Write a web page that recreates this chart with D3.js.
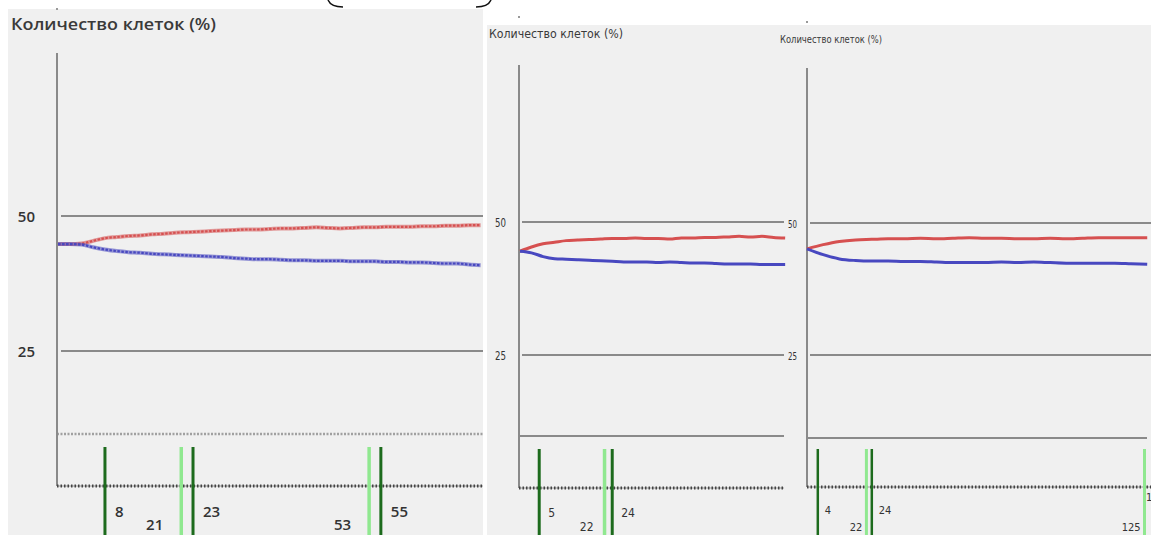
<!DOCTYPE html>
<html>
<head>
<meta charset="utf-8">
<script src="https://cdn.jsdelivr.net/npm/d3@7"></script>
<style>
  body { margin:0; background:#fff; }
  svg { display:block; }
</style>
</head>
<body>
<svg></svg>
<script>
// ---- data ----
var title = "Количество клеток (%)";
var yTicks = [25, 50];

var x1 = [0,2,4,6,8,10,12,14,16,18,20,22,24,26,28,30,32,34,36,38,40,42,44,46,48,50,52,54,56,58,60,62,64,66,68,70,72];
var red1 = [44.8,44.8,44.9,45.4,45.9,46.1,46.3,46.4,46.6,46.7,46.9,47.0,47.1,47.2,47.3,47.4,47.5,47.5,47.6,47.7,47.7,47.8,47.9,47.8,47.7,47.8,47.9,47.9,48.0,48.0,48.0,48.1,48.1,48.2,48.2,48.3,48.3];
var blue1 = [44.8,44.8,44.7,44.2,43.8,43.5,43.3,43.2,43.0,42.9,42.8,42.7,42.6,42.5,42.4,42.2,42.1,42.0,42.0,41.9,41.8,41.8,41.7,41.7,41.7,41.6,41.6,41.6,41.5,41.5,41.4,41.4,41.3,41.2,41.2,41.0,40.9];
var marks1 = [8, 21, 23, 53, 55];
var marks1Dark = [true, false, true, false, true];

var x2 = [0,3,6,9,12,15,18,21,24,27,30,33,36,39,42,45,48,51,54,57,60,63,66,69];
var red2 = [44.5,45.3,45.9,46.2,46.5,46.6,46.7,46.8,46.9,46.9,47.0,46.9,46.9,46.8,47.0,47.0,47.1,47.1,47.2,47.3,47.2,47.3,47.1,47.0];
var blue2 = [44.5,44.2,43.5,43.1,43.0,42.9,42.8,42.7,42.6,42.5,42.5,42.5,42.4,42.5,42.4,42.3,42.3,42.2,42.1,42.1,42.1,42.0,42.0,42.0];
var marks2 = [5, 22, 24];
var marks2Dark = [true, false, true];

var x3 = [0,6,12,18,24,30,36,42,48,54,60,66,72,78,84,90,96,102,108,114,120,126];
var red3 = [45.1,45.9,46.5,46.8,46.9,47.0,47.0,47.1,47.0,47.1,47.2,47.1,47.1,47.0,47.0,47.1,47.0,47.1,47.2,47.2,47.2,47.2];
var blue3 = [45.1,44.0,43.2,42.9,42.8,42.8,42.7,42.7,42.6,42.5,42.5,42.5,42.6,42.5,42.6,42.5,42.4,42.4,42.4,42.4,42.3,42.2];
var marks3 = [4, 22, 24, 125, 128];
var marks3Dark = [true, false, true, false, true];

// ---- drawing ----
var W = 1151, H = 535;
var svg = d3.select("svg").attr("width", W).attr("height", H);

var defs = svg.append("defs");
defs.append("clipPath").attr("id", "page")
  .append("rect").attr("x", 0).attr("y", 0).attr("width", W).attr("height", H);

// backgrounds
svg.append("rect").attr("x", 8).attr("y", 9).attr("width", 475).attr("height", H - 9).attr("fill", "#f0f0f0");
svg.append("rect").attr("x", 487).attr("y", 25).attr("width", W - 487).attr("height", H - 25).attr("fill", "#f0f0f0");

// bracket pieces cut off at top
svg.append("path").attr("d", "M328,0 Q331,7 343,7").attr("fill", "none").attr("stroke", "#111").attr("stroke-width", 1.5);
svg.append("path").attr("d", "M491,0 Q488,7 476,7").attr("fill", "none").attr("stroke", "#111").attr("stroke-width", 1.5);

var red = "#d65050", blue = "#4848c0", darkGreen = "#1d6b1d", lightGreen = "#90e890";

function drawPanel(cfg) {
  var g = svg.append("g").attr("clip-path", "url(#page)");
  var xScale = d3.scaleLinear().domain([0, cfg.xMax]).range([cfg.left, cfg.right]);
  var yScale = d3.scaleLinear().domain([0, 50]).range([cfg.bottom, cfg.y50]);

  var font = cfg.font;

  // title
  g.append("text")
    .attr("x", cfg.titleX).attr("y", cfg.titleY)
    .attr("font-family", font).attr("font-size", cfg.titleSize)
    .attr("font-weight", cfg.weight).attr("fill", "#3a3a3a")
    .attr("textLength", cfg.titleW).attr("lengthAdjust", "spacingAndGlyphs")
    .text(title);

  // little tick at top of axis
  g.append("rect").attr("x", cfg.axisX - 1).attr("y", cfg.titleY - 22).attr("width", 2).attr("height", 2).attr("fill", "#999");

  // gridlines
  g.selectAll(".grid").data(yTicks).enter().append("line")
    .attr("x1", cfg.gridStart).attr("x2", cfg.gridEnd)
    .attr("y1", function(d){ return yScale(d); }).attr("y2", function(d){ return yScale(d); })
    .attr("stroke", "#8a8a8a").attr("stroke-width", 2);

  // tick labels
  g.selectAll(".tl").data(yTicks).enter().append("text")
    .attr("x", cfg.tickX).attr("y", function(d){ return yScale(d) + cfg.tickDy; })
    .attr("text-anchor", "end")
    .attr("font-family", font).attr("font-size", cfg.tickSize).attr("font-weight", cfg.weight)
    .attr("fill", "#333")
    .text(function(d){ return d; })
    .each(function(){ if (cfg.tickW) d3.select(this).attr("textLength", cfg.tickW).attr("lengthAdjust", "spacingAndGlyphs"); });

  // separator
  var sep = g.append("line")
    .attr("x1", cfg.axisX).attr("x2", cfg.sepEnd)
    .attr("y1", cfg.sepY).attr("y2", cfg.sepY)
    .attr("stroke", cfg.dotted ? "#a0a0a0" : "#8a8a8a").attr("stroke-width", cfg.dotted ? 2.5 : 2);
  if (cfg.dotted) sep.attr("stroke-dasharray", "2,1.5");

  // y axis
  g.append("line").attr("x1", cfg.axisX).attr("x2", cfg.axisX)
    .attr("y1", cfg.axisTop).attr("y2", cfg.bottom)
    .attr("stroke", "#8a8a8a").attr("stroke-width", 2);

  // bottom dotted axis
  g.append("line").attr("x1", cfg.axisX).attr("x2", cfg.bottomEnd)
    .attr("y1", cfg.bottom).attr("y2", cfg.bottom)
    .attr("stroke", "#9a9a9a").attr("stroke-width", 1);
  g.append("line").attr("x1", cfg.axisX).attr("x2", cfg.bottomEnd)
    .attr("y1", cfg.bottom).attr("y2", cfg.bottom)
    .attr("stroke", "#444").attr("stroke-width", 3).attr("stroke-dasharray", "1.5,2");

  // series
  var line = d3.line()
    .x(function(d){ return xScale(d[0]); })
    .y(function(d){ return yScale(d[1]); })
    .curve(d3.curveMonotoneX);

  [[cfg.red, red], [cfg.blue, blue]].forEach(function(s) {
    var pts = cfg.xs.map(function(x, i){ return [x, s[0][i]]; });
    if (cfg.dotted) {
      g.append("path").datum(pts).attr("d", line)
        .attr("fill", "none").attr("stroke", s[1]).attr("stroke-opacity", 0.55).attr("stroke-width", 4);
      g.append("path").datum(pts).attr("d", line)
        .attr("fill", "none").attr("stroke", s[1]).attr("stroke-width", 2.2).attr("stroke-dasharray", "2.5,1.5");
    } else {
      g.append("path").datum(pts).attr("d", line)
        .attr("fill", "none").attr("stroke", s[1]).attr("stroke-width", 3);
    }
  });

  // green markers
  var marks = cfg.marks.map(function(v, i){ return { v: v, dark: cfg.dark[i] }; });
  // light first so dark is on top
  marks.sort(function(a, b){ return a.dark - b.dark; });
  g.selectAll(".mk").data(marks).enter().append("line")
    .attr("x1", function(d){ return xScale(d.v); }).attr("x2", function(d){ return xScale(d.v); })
    .attr("y1", cfg.markTop).attr("y2", H)
    .attr("stroke", function(d){ return d.dark ? darkGreen : lightGreen; })
    .attr("stroke-width", function(d){ return d.dark ? cfg.markW : cfg.markW + 0.5; });

  g.selectAll(".ml").data(marks).enter().append("text")
    .attr("x", function(d){
      var x = xScale(d.v);
      if (d.dark && x + cfg.darkDx > W - 4) return W - 5;
      return d.dark ? x + cfg.darkDx : x + cfg.lightDx;
    })
    .attr("y", function(d){
      var x = xScale(d.v);
      if (d.dark && x + cfg.darkDx > W - 4) return cfg.darkY - 13;
      return d.dark ? cfg.darkY : cfg.lightY;
    })
    .attr("text-anchor", function(d){ return d.dark ? "start" : "end"; })
    .attr("font-family", font).attr("font-size", cfg.labelSize).attr("font-weight", cfg.weight)
    .attr("fill", "#333")
    .text(function(d){ return d.v; });
}

var narrow = "'Liberation Sans Narrow', 'DejaVu Sans Condensed', 'Liberation Sans', sans-serif";

drawPanel({
  xs: x1, red: red1, blue: blue1, marks: marks1, dark: marks1Dark,
  xMax: 72.4, left: 58, right: 483, bottom: 486, y50: 216,
  axisX: 57, axisTop: 53, gridStart: 61, gridEnd: 483, sepY: 434, sepEnd: 483, bottomEnd: 483,
  tickX: 35, tickDy: 6, tickSize: 15, titleX: 11, titleY: 30, titleSize: 16, titleW: 205,
  markTop: 447, markW: 3, darkDx: 10, lightDx: -18, darkY: 517, lightY: 530, labelSize: 15,
  font: "'Open Sans', 'Liberation Sans', sans-serif", weight: 600, dotted: true
});

drawPanel({
  xs: x2, red: red2, blue: blue2, marks: marks2, dark: marks2Dark,
  xMax: 68.7, left: 520, right: 784, bottom: 488, y50: 222,
  axisX: 519, axisTop: 65, gridStart: 522, gridEnd: 784, sepY: 436, sepEnd: 784, bottomEnd: 784,
  tickX: 506, tickDy: 5, tickSize: 12, tickW: 11, titleX: 489, titleY: 38, titleSize: 12.5, titleW: 134,
  markTop: 449, markW: 3, darkDx: 9, lightDx: -11, darkY: 517, lightY: 531, labelSize: 12,
  font: narrow, weight: 400, dotted: false
});

drawPanel({
  xs: x3, red: red3, blue: blue3, marks: marks3, dark: marks3Dark,
  xMax: 127.4, left: 807, right: 1151, bottom: 487, y50: 223,
  axisX: 807, axisTop: 68, gridStart: 810, gridEnd: 1151, sepY: 438, sepEnd: 1147, bottomEnd: 1151,
  tickX: 797, tickDy: 5, tickSize: 11, tickW: 9, titleX: 780, titleY: 43, titleSize: 11, titleW: 102,
  markTop: 449, markW: 2.5, darkDx: 7, lightDx: -4, darkY: 514, lightY: 531, labelSize: 11,
  font: narrow, weight: 400, dotted: false
});
</script>
</body>
</html>
